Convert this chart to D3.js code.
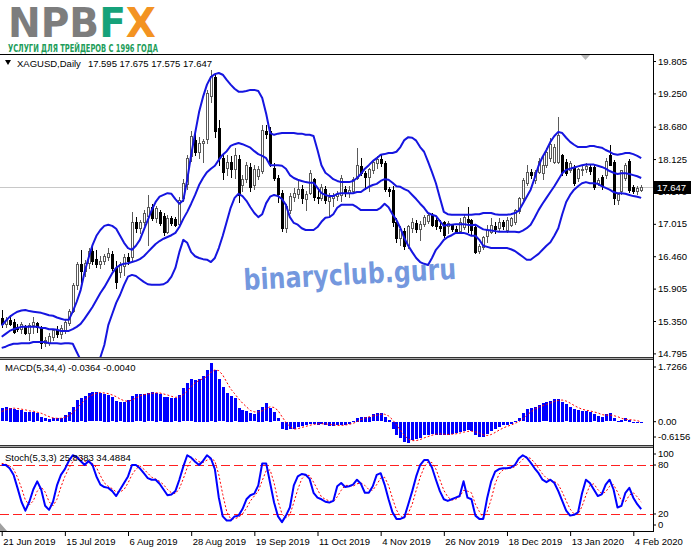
<!DOCTYPE html>
<html><head><meta charset="utf-8">
<script src="https://cdn.jsdelivr.net/npm/d3@7"></script>
<style>body{margin:0;background:#fff;}svg{display:block;font-family:"Liberation Sans",Arial,sans-serif;}</style>
</head><body><svg id="c" width="691" height="549"></svg>
<script>
// ---------- DATA ----------
const open=[15.40,15.30,15.37,15.34,15.25,15.22,15.25,15.14,15.28,15.32,15.23,14.97,14.98,15.08,15.19,15.13,15.20,15.32,15.53,15.96,16.32,16.20,16.35,16.55,16.42,16.32,16.37,16.45,16.50,16.25,16.19,16.30,16.45,16.45,17.05,16.95,17.05,17.15,17.30,17.12,17.22,17.15,16.88,17.12,17.10,17.02,17.46,17.70,18.18,18.45,18.25,18.40,18.46,19.20,19.53,18.65,18.14,17.97,18.08,17.95,18.12,17.68,17.79,17.99,17.68,17.83,17.92,18.60,18.60,17.97,17.80,17.55,16.95,17.25,17.48,17.52,17.62,17.44,17.55,17.78,17.48,17.45,17.62,17.40,17.45,17.50,17.51,17.62,17.55,17.58,17.80,18.00,17.88,17.82,17.94,18.05,18.12,18.05,17.62,17.60,17.05,16.78,16.90,16.65,16.95,17.03,16.93,17.02,17.07,17.16,17.08,16.97,17.04,16.97,17.00,16.93,16.90,16.96,17.10,17.08,16.96,16.55,16.62,16.80,16.88,16.97,16.94,17.04,16.91,17.00,17.05,17.24,17.45,17.71,17.90,17.77,17.90,17.88,18.02,18.14,18.08,18.08,18.19,18.08,17.94,17.99,17.80,17.93,17.96,17.99,17.99,17.72,17.82,17.85,18.19,18.08,17.42,17.57,17.80,18.10,17.65,17.58,17.595];
const high=[15.54,15.42,15.45,15.38,15.30,15.34,15.28,15.32,15.42,15.34,15.26,15.08,15.14,15.22,15.26,15.28,15.36,15.56,16.00,16.36,16.57,16.40,16.60,16.62,16.56,16.46,16.50,16.60,16.55,16.37,16.36,16.50,16.52,17.22,17.14,17.08,17.25,17.51,17.35,17.32,17.25,17.20,17.17,17.15,17.14,17.47,17.78,18.20,18.60,18.55,18.50,18.47,19.30,19.65,19.58,18.79,18.20,18.19,18.17,18.31,18.20,17.85,18.08,18.05,18.02,18.00,18.71,18.70,18.68,18.05,17.86,17.60,17.36,17.55,17.63,17.79,17.68,17.57,17.94,17.80,17.60,17.70,17.66,17.55,17.55,17.58,17.86,17.66,17.66,17.82,18.31,18.14,17.92,17.97,18.10,18.18,18.22,18.10,17.65,17.66,17.12,16.97,16.95,17.00,17.11,17.08,17.06,17.16,17.20,17.20,17.12,17.08,17.06,17.06,17.02,16.98,17.11,17.17,17.31,17.10,17.00,16.67,16.80,17.00,17.11,17.04,17.11,17.08,17.14,17.14,17.27,17.47,17.80,18.02,17.96,17.93,18.14,18.19,18.31,18.48,18.38,18.85,18.22,18.12,18.10,18.02,17.98,18.02,18.05,18.02,18.03,17.80,17.85,18.14,18.36,18.11,17.55,17.94,18.05,18.12,17.68,17.66,17.675];
const low=[15.25,15.25,15.28,15.14,15.18,15.14,15.12,15.03,15.14,15.17,14.88,14.92,14.94,15.02,15.08,15.06,15.15,15.28,15.50,15.90,16.02,16.12,16.25,16.33,16.28,16.26,16.33,16.40,16.22,15.91,16.10,16.14,16.33,16.40,16.88,16.85,17.00,16.65,17.08,17.05,17.00,16.83,16.85,17.00,16.98,16.98,17.40,17.62,18.10,18.20,18.15,18.08,18.40,19.10,18.50,18.02,17.79,17.85,17.82,17.80,17.39,17.57,17.74,17.57,17.62,17.78,17.88,18.48,18.00,17.76,17.39,16.90,16.88,17.20,17.40,17.45,17.38,17.25,17.52,17.42,17.38,17.42,17.38,17.14,17.32,17.42,17.40,17.50,17.48,17.55,17.78,17.85,17.62,17.57,17.88,17.98,18.00,17.58,17.50,16.98,16.70,16.65,16.59,16.60,16.88,16.88,16.74,16.98,17.03,16.97,16.93,16.90,16.79,16.85,16.90,16.85,16.88,16.92,16.88,16.82,16.52,16.51,16.59,16.71,16.85,16.85,16.90,16.92,16.88,16.97,17.02,17.20,17.42,17.68,17.80,17.72,17.88,17.79,17.99,18.10,18.05,18.05,17.85,17.86,17.90,17.68,17.75,17.86,17.90,17.87,17.62,17.68,17.62,17.80,18.02,17.36,17.36,17.52,17.76,17.56,17.55,17.53,17.575];
const close=[15.30,15.37,15.30,15.17,15.22,15.30,15.14,15.28,15.33,15.24,14.97,15.03,15.10,15.19,15.13,15.23,15.34,15.53,15.96,16.33,16.20,16.35,16.55,16.38,16.32,16.38,16.47,16.52,16.25,16.02,16.32,16.45,16.38,17.05,16.95,17.04,17.20,17.30,17.12,17.28,17.03,16.87,17.12,17.03,17.00,17.43,17.72,18.15,18.52,18.25,18.40,18.44,19.25,19.55,18.60,18.14,17.91,18.08,17.95,18.19,17.51,17.79,18.02,17.65,17.95,17.96,18.62,18.55,18.05,17.80,17.52,16.95,17.32,17.50,17.55,17.62,17.45,17.52,17.88,17.48,17.45,17.65,17.43,17.48,17.51,17.52,17.80,17.55,17.60,17.78,18.02,17.88,17.82,17.95,18.07,18.12,18.05,17.62,17.57,17.05,16.77,16.93,16.63,16.97,17.05,16.93,17.02,17.13,17.16,17.00,16.97,16.94,16.83,17.03,16.92,16.88,17.05,17.13,17.05,16.91,16.54,16.63,16.79,16.91,16.99,16.92,17.05,16.98,17.08,17.11,17.25,17.45,17.77,17.91,17.85,17.90,18.10,18.02,18.25,18.39,18.34,18.54,17.91,17.88,18.05,17.71,17.95,17.96,18.00,17.92,17.65,17.77,17.66,18.10,18.03,17.45,17.53,17.93,18.02,17.60,17.57,17.63,17.647];
const bbUpper=[15.27,15.35,15.42,15.47,15.51,15.53,15.54,15.52,15.51,15.50,15.49,15.47,15.45,15.44,15.41,15.39,15.37,15.37,15.51,15.68,15.88,16.19,16.43,16.65,16.81,16.91,16.98,17.00,16.98,16.93,16.81,16.69,16.60,16.57,16.64,16.74,16.91,17.08,17.25,17.39,17.48,17.51,17.54,17.53,17.44,17.36,17.42,17.77,18.20,18.57,18.93,19.19,19.40,19.53,19.58,19.60,19.57,19.48,19.40,19.33,19.28,19.28,19.29,19.31,19.31,19.29,19.17,18.90,18.57,18.54,18.56,18.57,18.57,18.57,18.57,18.56,18.56,18.54,18.54,18.52,18.28,18.02,17.89,17.84,17.78,17.75,17.73,17.73,17.73,17.75,17.80,17.87,17.96,18.02,18.09,18.14,18.20,18.21,18.23,18.23,18.25,18.33,18.45,18.50,18.49,18.44,18.33,18.25,18.08,17.90,17.71,17.46,17.22,17.18,17.17,17.17,17.17,17.17,17.17,17.17,17.18,17.18,17.20,17.20,17.20,17.18,17.17,17.17,17.17,17.18,17.20,17.24,17.36,17.48,17.60,17.80,18.01,18.16,18.28,18.42,18.52,18.59,18.57,18.49,18.42,18.37,18.33,18.33,18.33,18.35,18.35,18.33,18.32,18.28,18.25,18.21,18.20,18.21,18.23,18.23,18.21,18.18,18.14];
const bbMiddle=[15.08,15.13,15.18,15.21,15.23,15.25,15.25,15.25,15.25,15.25,15.23,15.23,15.21,15.21,15.20,15.18,15.18,15.18,15.21,15.25,15.30,15.39,15.49,15.59,15.71,15.83,15.93,16.05,16.17,16.26,16.31,16.33,16.34,16.36,16.38,16.41,16.46,16.53,16.60,16.67,16.72,16.76,16.79,16.82,16.86,16.96,17.10,17.22,17.36,17.51,17.68,17.80,17.90,17.96,18.01,18.11,18.20,18.26,18.35,18.38,18.40,18.38,18.35,18.32,18.26,18.21,18.18,18.14,18.02,18.02,18.02,18.01,17.96,17.85,17.80,17.77,17.75,17.73,17.72,17.72,17.63,17.54,17.51,17.49,17.49,17.53,17.54,17.54,17.54,17.54,17.56,17.56,17.61,17.65,17.68,17.70,17.75,17.78,17.77,17.72,17.66,17.65,17.61,17.58,17.51,17.44,17.36,17.29,17.20,17.17,17.15,17.06,16.98,17.00,17.00,17.01,17.01,17.01,17.00,16.99,17.00,16.96,16.92,16.91,16.90,16.89,16.88,16.88,16.88,16.88,16.88,16.87,16.90,16.94,17.00,17.12,17.25,17.36,17.46,17.56,17.66,17.77,17.88,17.94,17.96,17.98,18.00,18.02,18.03,18.03,18.03,18.01,17.99,17.96,17.92,17.89,17.87,17.88,17.88,17.87,17.85,17.83,17.80];
const bbLower=[14.89,14.91,14.94,14.96,14.96,14.97,14.97,14.97,14.99,14.99,14.99,14.99,14.97,14.97,14.97,14.96,14.97,14.97,14.96,14.82,14.68,14.60,14.55,14.55,14.61,14.73,14.94,15.28,15.47,15.66,15.80,15.97,16.11,16.14,16.12,16.07,16.02,15.98,15.97,15.97,15.97,15.98,16.02,16.11,16.26,16.53,16.74,16.69,16.53,16.46,16.43,16.41,16.40,16.36,16.43,16.60,16.81,17.05,17.29,17.46,17.53,17.49,17.41,17.30,17.20,17.13,17.18,17.37,17.48,17.51,17.49,17.44,17.34,17.13,17.03,17.00,16.94,16.91,16.91,16.91,16.96,17.05,17.12,17.13,17.18,17.29,17.34,17.34,17.34,17.34,17.30,17.25,17.25,17.25,17.25,17.25,17.29,17.36,17.30,17.18,17.08,16.94,16.77,16.64,16.53,16.43,16.36,16.33,16.31,16.43,16.57,16.65,16.74,16.79,16.82,16.86,16.86,16.86,16.84,16.81,16.81,16.74,16.64,16.62,16.60,16.60,16.60,16.60,16.60,16.58,16.55,16.50,16.45,16.40,16.40,16.45,16.50,16.57,16.64,16.70,16.81,16.94,17.18,17.39,17.51,17.60,17.66,17.71,17.73,17.71,17.71,17.70,17.66,17.63,17.60,17.56,17.54,17.54,17.53,17.51,17.49,17.48,17.46];
const macdMain=[0.39,0.42,0.41,0.37,0.36,0.35,0.30,0.28,0.30,0.25,0.15,0.10,0.08,0.10,0.10,0.12,0.20,0.28,0.44,0.64,0.69,0.76,0.84,0.87,0.87,0.84,0.82,0.79,0.72,0.61,0.57,0.59,0.64,0.77,0.81,0.81,0.82,0.84,0.87,0.86,0.81,0.74,0.74,0.71,0.69,0.79,0.99,1.13,1.25,1.23,1.26,1.35,1.53,1.7266,1.53,1.25,1.02,0.86,0.76,0.69,0.40,0.35,0.32,0.25,0.22,0.35,0.44,0.54,0.41,0.28,0.10,-0.20,-0.25,-0.22,-0.20,-0.15,-0.12,-0.10,-0.05,-0.05,-0.08,-0.05,-0.08,-0.12,-0.12,-0.10,-0.08,-0.08,-0.05,0.01,0.12,0.15,0.15,0.15,0.22,0.25,0.25,0.15,0.05,-0.20,-0.37,-0.47,-0.59,-0.6156,-0.54,-0.51,-0.47,-0.39,-0.37,-0.35,-0.37,-0.37,-0.39,-0.37,-0.35,-0.32,-0.30,-0.28,-0.25,-0.28,-0.39,-0.44,-0.44,-0.35,-0.28,-0.22,-0.15,-0.10,-0.08,-0.05,0.02,0.10,0.25,0.37,0.41,0.44,0.49,0.54,0.57,0.61,0.67,0.67,0.59,0.51,0.44,0.37,0.35,0.32,0.32,0.30,0.22,0.18,0.15,0.22,0.25,0.10,0.02,0.05,0.10,0.05,-0.01,-0.02,-0.0364];
const macdSignal=[0.30,0.35,0.38,0.40,0.39,0.37,0.35,0.32,0.31,0.28,0.25,0.20,0.15,0.11,0.10,0.10,0.13,0.18,0.26,0.39,0.51,0.63,0.73,0.79,0.84,0.86,0.85,0.83,0.79,0.74,0.67,0.62,0.60,0.64,0.70,0.76,0.80,0.82,0.84,0.85,0.85,0.82,0.79,0.75,0.72,0.73,0.80,0.90,1.04,1.15,1.22,1.27,1.34,1.46,1.53,1.51,1.38,1.17,0.97,0.83,0.68,0.55,0.44,0.33,0.29,0.29,0.32,0.39,0.44,0.42,0.33,0.15,-0.02,-0.14,-0.22,-0.21,-0.17,-0.14,-0.11,-0.08,-0.07,-0.06,-0.07,-0.08,-0.09,-0.11,-0.11,-0.10,-0.08,-0.05,0.00,0.06,0.11,0.14,0.17,0.19,0.22,0.22,0.17,0.06,-0.09,-0.25,-0.41,-0.51,-0.56,-0.56,-0.53,-0.48,-0.44,-0.40,-0.37,-0.36,-0.37,-0.38,-0.37,-0.36,-0.34,-0.31,-0.29,-0.28,-0.30,-0.34,-0.39,-0.41,-0.38,-0.32,-0.25,-0.19,-0.14,-0.10,-0.05,0.00,0.08,0.19,0.28,0.37,0.43,0.47,0.51,0.55,0.60,0.63,0.64,0.61,0.55,0.48,0.42,0.37,0.34,0.32,0.29,0.26,0.21,0.19,0.20,0.18,0.15,0.10,0.07,0.06,0.05,0.03,-0.004];
const stochMain=[80,80,76,68,52,35,24,35,50,60,50,30,25,35,55,68,75,85,92,90,85,80,85,80,66,56,53,52,48,42,50,58,66,80,80,76,70,64,62,62,57,50,43,44,48,62,78,92,89,84,80,85,92,88,75,40,17,12,12,17,18,26,38,43,45,55,82,82,58,34,17,10,18,28,55,66,69,68,63,46,40,38,35,34,36,54,58,53,54,56,62,57,46,46,54,68,70,56,38,22,14,14,16,32,48,66,80,86,86,77,62,48,38,36,38,40,42,60,40,38,18,14,14,40,60,72,75,76,76,77,80,88,92,89,83,76,70,62,59,62,58,48,36,24,18,19,22,45,62,58,50,42,44,56,62,50,28,30,46,52,40,32,25.8383];
const stochSignal=[82,81,79,75,65,52,37,31,36,48,53,47,35,30,38,53,66,76,84,89,89,85,83,82,77,67,58,54,51,47,47,50,58,68,75,79,75,70,65,63,60,56,50,46,45,51,63,77,86,88,84,83,86,88,85,68,44,23,14,14,16,20,27,36,42,48,61,73,74,58,36,20,15,19,34,50,63,68,67,59,50,41,38,36,35,41,49,55,55,54,57,58,55,50,49,56,64,65,55,39,25,17,15,21,32,49,65,77,84,83,75,62,49,41,37,38,41,49,48,46,32,23,15,23,38,57,69,74,76,76,78,82,87,90,88,83,76,69,64,61,60,56,47,36,26,20,20,29,43,55,57,50,45,47,54,56,47,36,35,43,46,41,34.4884];
const dateTickIndex=[0,16,32,48,64,80,96,112,128,144,160];
const dateTickLabels=["21 Jun 2019","15 Jul 2019","6 Aug 2019","28 Aug 2019","19 Sep 2019","11 Oct 2019","4 Nov 2019","26 Nov 2019","18 Dec 2019","13 Jan 2020","4 Feb 2020"];
const priceTicks=[19.805,19.250,18.680,18.125,17.570,17.015,16.460,15.905,15.350,14.795];
const macdTicks=[1.7266,0,-0.6156];
const stochTicks=[100,80,20,0];
const stochLevels=[80,20];
const lastPrice=17.647;

// ---------- LAYOUT ----------
const svg=d3.select("#c");
const R=653, mainTop=54, mainBot=357, macdTop=359, macdBot=445, stTop=447, stBot=531;
const FONT='"Liberation Sans",Arial,sans-serif', FS=9.5;
const n=close.length, idx=d3.range(n);
const x=d3.scaleLinear().domain([0,160]).range([1.7,633.3]);
const yP=d3.scaleLinear().domain([14.795,19.805]).range([353.4,61]);
const yM=d3.scaleLinear().domain([-0.6156,1.7266]).range([442.5,363.3]);
const yS=d3.scaleLinear().domain([0,100]).range([530.3,448.7]);
const px=i=>Math.round(x(i));

svg.append("rect").attr("width",691).attr("height",549).attr("fill","#fff");
const defs=svg.append("defs");
[["cm",mainTop,mainBot],["cd",macdTop,macdBot],["cs",stTop,stBot]].forEach(([id,t,b])=>{
  defs.append("clipPath").attr("id",id).append("rect").attr("x",0).attr("y",t).attr("width",R).attr("height",b-t);
});

// ---------- LOGO ----------
const logo=svg.append("g").attr("font-family",'"DejaVu Sans",sans-serif').attr("font-weight","bold");
const lt=logo.append("text").attr("x",8).attr("y",37).attr("font-size",40).attr("textLength",148).attr("lengthAdjust","spacingAndGlyphs");
lt.append("tspan").attr("fill","#7d7d7d").text("NPB");
lt.append("tspan").attr("fill","#16a27a").text("F");
lt.append("tspan").attr("fill","#f39322").text("X");
logo.append("text").attr("x",8).attr("y",52).attr("font-family",'"DejaVu Sans Condensed","DejaVu Sans",sans-serif').attr("font-size",11).attr("fill","#219d5a").attr("textLength",150).attr("lengthAdjust","spacingAndGlyphs").text("УСЛУГИ ДЛЯ ТРЕЙДЕРОВ С 1996 ГОДА");

// ---------- MAIN PANEL ----------
const gMain=svg.append("g").attr("clip-path","url(#cm)");
gMain.append("line").attr("x1",0).attr("x2",R).attr("y1",Math.round(yP(lastPrice))+0.5).attr("y2",Math.round(yP(lastPrice))+0.5).attr("stroke","#c8c8c8");
const bull=i=>close[i]>=open[i];
const col=i=>bull(i)?"#5a5a5a":"#000";
gMain.append("g").selectAll("line").data(idx).join("line")
  .attr("x1",i=>px(i)+0.5).attr("x2",i=>px(i)+0.5)
  .attr("y1",i=>Math.round(yP(high[i]))).attr("y2",i=>Math.round(yP(low[i]))+1)
  .attr("stroke",col);
const top_=i=>Math.round(yP(Math.max(open[i],close[i]))), bot_=i=>Math.round(yP(Math.min(open[i],close[i])));
gMain.append("g").selectAll("rect").data(idx.filter(i=>bull(i))).join("rect")
  .attr("x",i=>px(i)-0.5).attr("y",i=>top_(i)+0.5).attr("width",2)
  .attr("height",i=>Math.max(0.01,bot_(i)-top_(i)))
  .attr("fill","#fff").attr("stroke","#5a5a5a");
gMain.append("g").selectAll("rect").data(idx.filter(i=>!bull(i))).join("rect")
  .attr("x",i=>px(i)-1).attr("y",i=>top_(i)).attr("width",3)
  .attr("height",i=>Math.max(1,bot_(i)-top_(i)+1)).attr("fill","#000");
const lineP=d3.line().x((d,i)=>x(i)).y(d=>yP(d));
[bbUpper,bbMiddle,bbLower].forEach(s=>{
  gMain.append("path").attr("d",lineP(s)).attr("fill","none").attr("stroke","#1515e0").attr("stroke-width",2).attr("stroke-linejoin","round");
});

// ---------- MACD PANEL ----------
const gM=svg.append("g").attr("clip-path","url(#cd)");
gM.append("g").selectAll("rect").data(idx).join("rect")
  .attr("x",i=>px(i)-1).attr("width",3)
  .attr("y",i=>Math.round(Math.min(yM(0),yM(macdMain[i]))))
  .attr("height",i=>Math.max(1,Math.round(Math.abs(yM(macdMain[i])-yM(0)))))
  .attr("fill","#0000ff");
gM.append("path").attr("d",d3.line().x((d,i)=>x(i)).y(d=>yM(d))(macdSignal)).attr("fill","none").attr("stroke","#ff0000").attr("stroke-width",1).attr("stroke-dasharray","2,2");

// ---------- STOCH PANEL ----------
const gS=svg.append("g").attr("clip-path","url(#cs)");
gS.selectAll("line.lvl").data(stochLevels).join("line").attr("class","lvl")
  .attr("x1",0).attr("x2",R).attr("y1",d=>Math.round(yS(d))+0.5).attr("y2",d=>Math.round(yS(d))+0.5)
  .attr("stroke","#ff2020").attr("stroke-dasharray","9,4");
const lineS=d3.line().x((d,i)=>x(i)).y(d=>yS(d));
gS.append("path").attr("d",lineS(stochSignal)).attr("fill","none").attr("stroke","#ff0000").attr("stroke-width",1).attr("stroke-dasharray","2,2");
gS.append("path").attr("d",lineS(stochMain)).attr("fill","none").attr("stroke","#0000ff").attr("stroke-width",2).attr("stroke-linejoin","round");

// ---------- FRAMES ----------
const fr=svg.append("g").attr("stroke","#000").attr("shape-rendering","crispEdges");
fr.append("line").attr("x1",0).attr("x2",R).attr("y1",mainTop+0.5).attr("y2",mainTop+0.5);
fr.append("line").attr("x1",R+0.5).attr("x2",R+0.5).attr("y1",mainTop).attr("y2",stBot+1);
fr.append("line").attr("x1",0).attr("x2",R).attr("y1",stBot+0.5).attr("y2",stBot+0.5);
[[mainBot,macdTop],[macdBot,stTop]].forEach(([a,b])=>{
  fr.append("line").attr("x1",0).attr("x2",R).attr("y1",a+0.5).attr("y2",a+0.5).attr("stroke","#333");
  fr.append("line").attr("x1",0).attr("x2",R).attr("y1",a+1.5).attr("y2",a+1.5).attr("stroke","#a8a8a8");
  fr.append("line").attr("x1",0).attr("x2",R).attr("y1",b+0.5).attr("y2",b+0.5).attr("stroke","#333");
});
svg.append("path").attr("d","M0,523L0,531L7,531Z").attr("fill","#a0a0a0");
svg.append("path").attr("d","M581,55L590,55L585.5,60Z").attr("fill","#b8b8b8");

// ---------- AXES ----------
function styleAxis(g){
  g.attr("font-family",FONT).attr("font-size",FS);
  g.select(".domain").remove();
  g.selectAll("text").attr("fill","#000");
  g.selectAll("line").attr("stroke","#000");
}
const axP=svg.append("g").attr("transform",`translate(${R},0)`)
  .call(d3.axisRight(yP).tickValues(priceTicks).tickFormat(d3.format(".3f")).tickSize(3).tickPadding(2));
styleAxis(axP);
function clampTicks(g,scale,lo,hi){
  g.selectAll(".tick").attr("transform",d=>`translate(0,${Math.max(lo,Math.min(hi,scale(d)))})`);
}
const axM=svg.append("g").attr("transform",`translate(${R},0)`)
  .call(d3.axisRight(yM).tickValues(macdTicks).tickFormat(d=>d===0?"0.00":String(d)).tickSize(3).tickPadding(2));
styleAxis(axM); clampTicks(axM,yM,macdTop+8,macdBot-8);
const axS=svg.append("g").attr("transform",`translate(${R},0)`)
  .call(d3.axisRight(yS).tickValues(stochTicks).tickFormat(d3.format("d")).tickSize(3).tickPadding(2));
styleAxis(axS); clampTicks(axS,yS,stTop+7,stBot-6);
const axX=svg.append("g").attr("transform",`translate(0,${stBot+1})`)
  .call(d3.axisBottom(x).tickValues(dateTickIndex).tickFormat((d,i)=>dateTickLabels[i]).tickSize(4).tickPadding(2));
styleAxis(axX);
axX.selectAll("text").attr("text-anchor","start").attr("x",1);

// current price box (covers the upper part of the 17.570 label, as in MT4)
const yl=Math.round(yP(lastPrice));
svg.append("rect").attr("x",R+1).attr("y",yl-6).attr("width",691-R-1).attr("height",13).attr("fill","#000");
svg.append("text").attr("x",R+4).attr("y",yl+4).attr("font-family",FONT).attr("font-size",FS).attr("fill","#fff").text(d3.format(".3f")(lastPrice));

// ---------- LABELS ----------
svg.append("path").attr("d","M5,60L11,60L8,65Z").attr("fill","#000");
const lab=svg.append("g").attr("font-family",FONT).attr("font-size",FS).attr("fill","#000");
const hdr=lab.append("text").attr("x",17).attr("y",67);
hdr.append("tspan").text("XAGUSD,Daily");
hdr.append("tspan").attr("dx",7).text(`${open[n-1].toFixed(3)} ${high[n-1].toFixed(3)} ${low[n-1].toFixed(3)} ${close[n-1].toFixed(3)}`);
lab.append("text").attr("x",5).attr("y",371).text(`MACD(5,34,4) ${macdMain[n-1].toFixed(4)} ${macdSignal[n-1].toFixed(4)}`);
lab.append("text").attr("x",5).attr("y",461).text(`Stoch(5,3,3) ${stochMain[n-1].toFixed(4)} ${stochSignal[n-1].toFixed(4)}`);

// watermark
svg.append("text").attr("x",244).attr("y",290).attr("transform","rotate(-3,244,290)")
  .attr("font-family",'"DejaVu Sans",sans-serif').attr("font-weight","bold").attr("font-size",29)
  .attr("fill","#5b86d8").attr("fill-opacity",0.85).attr("textLength",213).attr("lengthAdjust","spacingAndGlyphs")
  .text("binaryclub.guru");
</script></body></html>
